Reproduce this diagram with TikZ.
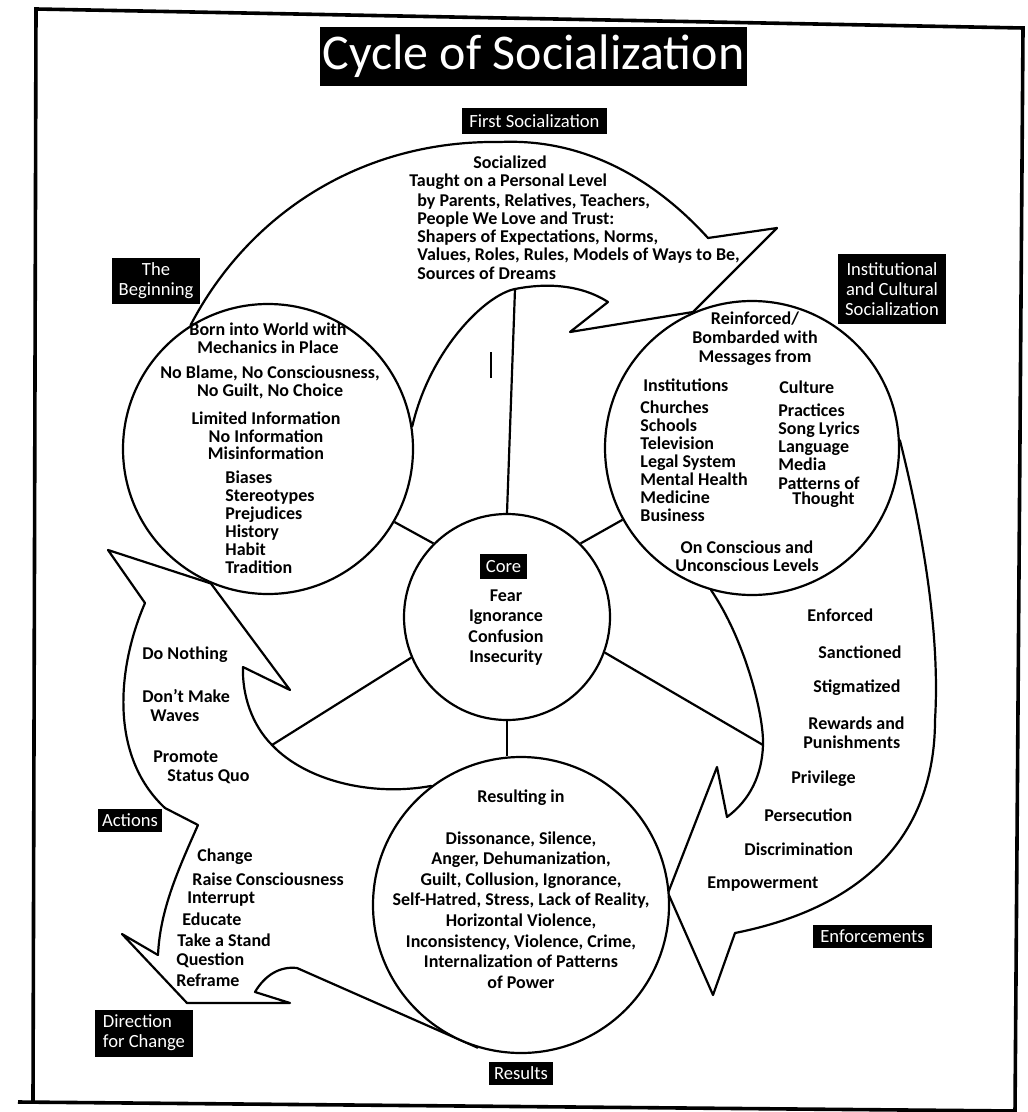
\documentclass[tikz,border=0pt]{standalone}
\usepackage{fontspec}
\setmainfont{Carlito}
\pgfdeclarelayer{bg}
\pgfsetlayers{bg,main}
\tikzset{
  shapeline/.style={draw, line width=1.1pt, fill=white, line join=round},
  ring/.style={circle, draw, line width=1.1pt, fill=white, inner sep=0pt},
  spoke/.style={line width=1.1pt},
  txt/.style={font=\bfseries\fontsize{9pt}{#1}\selectfont, align=center, inner sep=0pt},
  txt/.default=9pt,
  lbl/.style={fill=black, text=white, font=\fontsize{9.3pt}{10pt}\selectfont, align=center, inner sep=1pt},
  frameline/.style={line width=1.8pt, line join=miter},
}
\begin{document}
\begin{tikzpicture}[x=0.5pt,y=-0.5pt]
\useasboundingbox (0,0) rectangle (1027,1112);

% circles
\node[ring, minimum size=145pt] (begin) at (268,449) {};
\node[ring, minimum size=147pt] (inst) at (752,448) {};
\node[ring, minimum size=148pt] (results) at (521,905) {};
\node[ring, minimum size=103pt] (core) at (507,617) {};

\coordinate (topin) at (515,289);
\coordinate (al) at (272,745);
\coordinate (er) at (763,745);

\begin{pgfonlayer}{bg}
% First socialization arrow
\draw[shapeline] (begin.122) .. controls (248,215) and (360,140) .. (500,142)
  .. controls (590,138) and (660,185) .. (708,238) -- (777,228) -- (693,312)
  -- (570,332) -- (608,302) .. controls (580,284) and (545,283) .. (topin)
  .. controls (485,295) and (430,350) .. (begin.9) -- (begin.center) -- cycle;
% Enforcements arrow
\draw[shapeline] (inst.3) .. controls (925,540) and (940,640) .. (935,720)
  .. controls (935,800) and (900,900) .. (735,933) -- (713,995) -- (668,893)
  -- (717,767) -- (727,817) .. controls (750,800) and (762,775) .. (er)
  .. controls (764,715) and (745,640) .. (inst.254) -- (inst.center) -- cycle;
% Actions / Direction for change arrow
\draw[shapeline] (begin.247) -- (108,550) -- (145,603)
  .. controls (118,665) and (108,755) .. (165,808) -- (198,825)
  .. controls (178,870) and (160,910) .. (158,955) -- (122,934) -- (187,1003)
  -- (290,1003) -- (255,992) .. controls (265,975) and (280,966) .. (297,968)
  -- (results.253) -- (results.center) -- (results.127)
  .. controls (370,797) and (305,780) .. (al)
  .. controls (252,725) and (242,695) .. (243,667) -- (290,690) -- cycle;
\end{pgfonlayer}

% spokes
\draw[spoke] (core.north) -- (topin);
\draw[spoke] (core.45) -- (inst.209);
\draw[spoke] (core.135) -- (begin.330);
\draw[spoke] (core.203) -- (al);
\draw[spoke] (core.340) -- (er);
\draw[spoke] (core.south) -- (core.south |- results.north);
\draw[line width=1pt] (491,352) -- (491,378);

% frame
\draw[frameline] (33,1102) -- (36,9) -- (1023,28) -- (1015,1112);
\draw[frameline] (18,1102) -- (1015,1111);

% labels
\node[lbl, font=\fontsize{25pt}{25pt}\selectfont, minimum width=213.5pt, minimum height=29.5pt] (title) at (533.5,56.5) {Cycle of Socialization};
\node[lbl, minimum width=72.5pt, minimum height=13pt] (first) at (534.5,121) {First Socialization};
\node[lbl, minimum width=44pt, minimum height=23pt] (beg) at (156,281) {The\\Beginning};
\node[lbl, minimum width=54pt, minimum height=35pt] (instl) at (892,289) {Institutional\\and Cultural\\Socialization};
\node[lbl, minimum width=23.5pt, minimum height=12.5pt] (corel) at (503.5,566.5) {Core};
\node[lbl, minimum width=32pt, minimum height=11.5pt] (act) at (130,820) {Actions};
\node[lbl, minimum width=49pt, minimum height=23.5pt, align=left] (dir) at (144,1033) {Direction\\for Change};
\node[lbl, minimum width=59.5pt, minimum height=11.5pt] (enf) at (872.5,936.5) {Enforcements};
\node[lbl, minimum width=32pt, minimum height=11.5pt] (resl) at (521,1073.5) {Results};

% top arrow text
\node[txt] (s0) at (510,162) {Socialized};
\node[txt, anchor=west] (s1) at (409,182) {Taught on a Personal Level};
\node[txt=9.1pt, align=left, anchor=west] (s2) at (417,236.5) {by Parents, Relatives, Teachers,\\People We Love and Trust:\\Shapers of Expectations, Norms,\\Values, Roles, Rules, Models of Ways to Be,\\Sources of Dreams};

% beginning circle text
\node[txt] (b1) at (268,338) {Born into World with\\Mechanics in Place};
\node[txt] (b2) at (270,382.5) {No Blame, No Consciousness,\\No Guilt, No Choice};
\node[txt=8.8pt] (b3) at (266,436) {Limited Information\\No Information\\Misinformation};
\node[txt, align=left, anchor=west] (b4) at (225,522) {Biases\\Stereotypes\\Prejudices\\History\\Habit\\Tradition};

% institutional circle text
\node[txt=9.5pt] (r1) at (755,339) {Reinforced/\\Bombarded with\\Messages from};
\node[txt, anchor=west] (r2) at (643,385) {Institutions};
\node[txt, align=left, anchor=west] (r3) at (640,461) {Churches\\Schools\\Television\\Legal System\\Mental Health\\Medicine\\Business};
\node[txt, anchor=west] (r4) at (779,387) {Culture};
\node[txt=9.1pt, align=left, anchor=west] (r5) at (778,446.5) {Practices\\Song Lyrics\\Language\\Media\\Patterns of};
\node[txt, anchor=west] (r6) at (792,500) {Thought};
\node[txt] (r7) at (747,556) {On Conscious and\\Unconscious Levels};

% core text
\node[txt=10.2pt] (c1) at (506,627.5) {Fear\\Ignorance\\Confusion\\Insecurity};

% actions text
\node[txt, anchor=west] (a1) at (142,655) {Do Nothing};
\node[txt, anchor=west] (a2) at (142,696) {Don't Make};
\node[txt, anchor=west] (a3) at (150,716) {Waves};
\node[txt, anchor=west] (a4) at (153,757) {Promote};
\node[txt, anchor=west] (a5) at (167,777) {Status Quo};

% direction for change text
\node[txt, anchor=west] (d1) at (197,857) {Change};
\node[txt, anchor=west] (d2) at (192,879) {Raise Consciousness};
\node[txt, anchor=west] (d3) at (187,899) {Interrupt};
\node[txt, anchor=west] (d4) at (182,919) {Educate};
\node[txt, anchor=west] (d5) at (177,940) {Take a Stand};
\node[txt, anchor=west] (d6) at (176,960) {Question};
\node[txt, anchor=west] (d7) at (176,980) {Reframe};

% enforcement text
\node[txt, anchor=west] (e1) at (807,615) {Enforced};
\node[txt, anchor=west] (e2) at (818,652) {Sanctioned};
\node[txt, anchor=west] (e3) at (813,688) {Stigmatized};
\node[txt, anchor=west] (e4) at (808,723) {Rewards and};
\node[txt, anchor=west] (e5) at (803,742) {Punishments};
\node[txt, anchor=west] (e6) at (791,779) {Privilege};
\node[txt, anchor=west] (e7) at (764,815) {Persecution};
\node[txt, anchor=west] (e8) at (744,849) {Discrimination};
\node[txt, anchor=west] (e9) at (707,884) {Empowerment};

% results text
\node[txt] (res1) at (521,798) {Resulting in};
\node[txt=10.3pt] (res2) at (521,910) {Dissonance, Silence,\\Anger, Dehumanization,\\Guilt, Collusion, Ignorance,\\Self-Hatred, Stress, Lack of Reality,\\Horizontal Violence,\\Inconsistency, Violence, Crime,\\Internalization of Patterns\\of Power};

\end{tikzpicture}
\end{document}
